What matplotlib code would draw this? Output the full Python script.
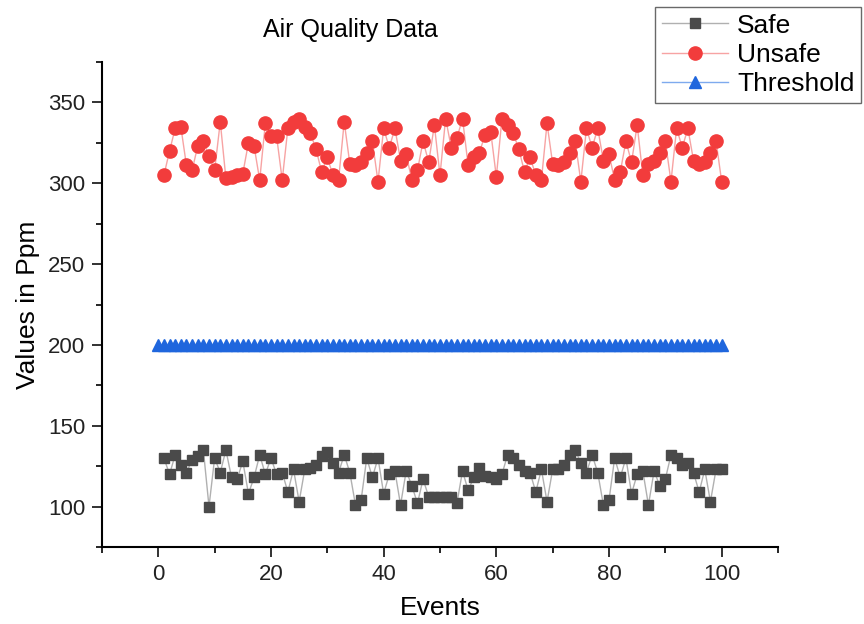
"""Air quality readings per event: safe, unsafe and threshold levels"""

import numpy as np
import matplotlib
matplotlib.use('Agg')
import matplotlib.pyplot as plt
from matplotlib.ticker import MultipleLocator

plt.rcParams['font.family'] = ['Liberation Sans', 'DejaVu Sans']

# event numbers
events = list(range(1, 101))
threshold_events = list(range(0, 101))

# readings in ppm
safe = [130, 120, 132, 126, 121, 129, 131, 135, 100, 130,
        121, 135, 118, 117, 128, 108, 118, 132, 120, 130,
        120, 121, 109, 123, 103, 123, 124, 126, 131, 134,
        127, 121, 132, 121, 101, 104, 130, 118, 130, 108,
        120, 122, 101, 122, 113, 102, 117, 106, 106, 106,
        106, 106, 102, 122, 110, 118, 124, 119, 118, 117,
        120, 132, 130, 126, 122, 121, 109, 123, 103, 123,
        123, 126, 132, 135, 127, 121, 132, 121, 101, 104,
        130, 118, 130, 108, 120, 122, 101, 122, 113, 117,
        132, 130, 126, 127, 121, 109, 123, 103, 123, 123]

unsafe = [305, 320, 334, 335, 311, 308, 323, 326, 317, 308,
          338, 303, 304, 305, 306, 325, 323, 302, 337, 329,
          329, 302, 334, 338, 340, 335, 331, 321, 307, 316,
          305, 302, 338, 312, 311, 313, 319, 326, 301, 334,
          322, 334, 314, 318, 302, 308, 326, 313, 336, 305,
          340, 322, 328, 340, 311, 316, 319, 330, 332, 304,
          340, 336, 331, 321, 307, 316, 305, 302, 337, 312,
          311, 313, 319, 326, 301, 334, 322, 334, 314, 318,
          302, 307, 326, 313, 336, 305, 312, 314, 319, 326,
          301, 334, 322, 334, 314, 312, 313, 319, 326, 301]

threshold = [200] * len(threshold_events)

fig = plt.figure(figsize=(8.64, 6.24), dpi=100)
ax = fig.add_axes([0.118, 0.1234, 0.7825, 0.7772])

ax.plot(events, safe, color='#b0b0b0', lw=1.0, marker='s', ms=6.5,
        mfc='#4a4a4a', mec='#4a4a4a', label='Safe')
ax.plot(events, unsafe, color='#f7a3a3', lw=1.0, marker='o', ms=9.5,
        mfc='#f23c3c', mec='#f23c3c', label='Unsafe')
ax.plot(threshold_events, threshold, color='#7eaaee', lw=1.0, marker='^',
        ms=8, mfc='#1f66dd', mec='#1f66dd', label='Threshold')

ax.set_xlim(-10, 110)
ax.set_ylim(75, 375)
ax.xaxis.set_major_locator(MultipleLocator(20))
ax.xaxis.set_minor_locator(MultipleLocator(10))
ax.yaxis.set_major_locator(MultipleLocator(50))
ax.yaxis.set_minor_locator(MultipleLocator(25))

for side in ['top', 'right']:
    ax.spines[side].set_visible(False)
for side in ['left', 'bottom']:
    ax.spines[side].set_linewidth(1.5)

ax.tick_params(which='major', direction='out', length=7, width=1.3,
               labelsize=16, colors='#222222', pad=5)
ax.tick_params(which='minor', direction='out', length=4, width=1.2)
ax.set_xlabel('Events', fontsize=19, labelpad=8)
ax.set_ylabel('Values in Ppm', fontsize=19, labelpad=6)

fig.text(350 / 864, 1 - 30 / 624, 'Air Quality Data', fontsize=18,
         ha='center', va='center')

leg = fig.legend(loc='upper right', bbox_to_anchor=(861 / 864, 1 - 7 / 624),
                 fontsize=19, frameon=True, fancybox=False, handlelength=2.5,
                 borderpad=0.25, labelspacing=0.2, handletextpad=0.35,
                 borderaxespad=0)
leg.get_frame().set_edgecolor('#444444')
leg.get_frame().set_linewidth(1.0)

fig.savefig('out.png', dpi=100)
